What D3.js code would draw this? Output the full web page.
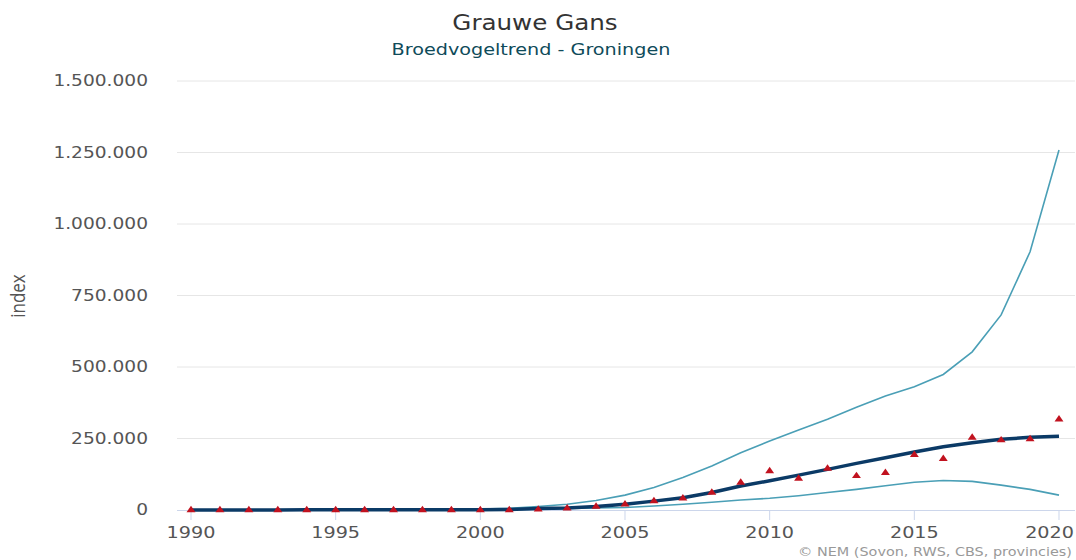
<!DOCTYPE html>
<html>
<head>
<meta charset="utf-8">
<script src="https://cdn.jsdelivr.net/npm/d3@7"></script>
<style>
  body { margin: 0; background: #fff; }
  text { font-family: "DejaVu Sans", Verdana, sans-serif; }
</style>
</head>
<body>
<div id="chart"></div>
<script>

// Chart data (index values per year)
const years = d3.range(1990, 2021);
const trend = [300, 300, 400, 400, 500, 500, 600, 700, 800, 900,
  1000, 2000, 5000, 7000, 12000, 20000, 31000, 43000, 61000, 84000,
  102000, 122000, 142000, 163000, 183000, 203000, 221000, 235000, 247000, 254000, 258000];
const upper = [600, 600, 700, 700, 800, 900, 1000, 1200, 1500, 2000,
  3000, 6000, 12000, 20000, 33000, 52000, 79000, 114000, 154000, 200000,
  241000, 280000, 317000, 359000, 399000, 431000, 474000, 553000, 682000, 903000, 1259000];
const lower = [100, 100, 150, 150, 200, 200, 250, 300, 350, 400,
  1000, 2000, 3000, 5000, 7000, 9000, 14000, 20000, 27000, 35000,
  41000, 50000, 61000, 72000, 85000, 97000, 103000, 100000, 87000, 72000, 52000];
const observed = [0, 0, 0, 0, 0, 0, 0, 0, 0, 0,
  0, 0, 2000, 6000, 12000, 20000, 31000, 41000, 61000, 96000,
  136000, 110000, 145000, 119000, 130000, 193000, 179000, 253000, 244000, 248000, 317000];
const yTicks = [0, 250000, 500000, 750000, 1000000, 1250000, 1500000];
const xTicks = [1990, 1995, 2000, 2005, 2010, 2015, 2020];

// The picture is stretched sideways, so draw in a narrower view box
const sx = 1.2;
const width = 1076;
const height = 560;
const W = width / sx;
const plot = {left: 177 / sx, right: 1075 / sx, top: 81, bottom: 510};

const svg = d3.select("#chart")
  .append("svg")
  .attr("width", width)
  .attr("height", height)
  .attr("viewBox", [0, 0, W, height])
  .attr("preserveAspectRatio", "none");

const nl = d3.formatLocale({decimal: ",", thousands: ".", grouping: [3], currency: ["€", ""]});
const fmt = nl.format(",");

let xScale = d3.scaleLinear()
  .domain([1990, 2020])
  .range([191 / sx, 1059 / sx]);

let yScale = d3.scaleLinear()
  .domain([0, 1500000])
  .range([plot.bottom, plot.top]);

// Gridlines
svg.append("g")
  .selectAll("line")
  .data(yTicks.slice(1))
  .enter()
  .append("line")
  .attr("x1", plot.left)
  .attr("x2", plot.right)
  .attr("y1", d => yScale(d))
  .attr("y2", d => yScale(d))
  .attr("stroke", "#e6e6e6")
  .attr("vector-effect", "non-scaling-stroke");

// Y labels
svg.append("g")
  .selectAll("text")
  .data(yTicks)
  .enter()
  .append("text")
  .attr("x", 148 / sx)
  .attr("y", d => yScale(d) + 5.5)
  .attr("text-anchor", "end")
  .attr("font-size", "15.5px")
  .attr("fill", "#555")
  .text(d => fmt(d));

// X axis line, ticks and labels
svg.append("line")
  .attr("x1", plot.left)
  .attr("x2", plot.right)
  .attr("y1", plot.bottom + 0.5)
  .attr("y2", plot.bottom + 0.5)
  .attr("stroke", "#ccd6eb")
  .attr("vector-effect", "non-scaling-stroke");

const xg = svg.append("g");
xg.selectAll("line")
  .data(xTicks)
  .enter()
  .append("line")
  .attr("x1", d => xScale(d))
  .attr("x2", d => xScale(d))
  .attr("y1", plot.bottom)
  .attr("y2", plot.bottom + 10)
  .attr("stroke", "#ccd6eb")
  .attr("vector-effect", "non-scaling-stroke");

// last label is kept inside the picture, like the reference
xg.selectAll("text")
  .data(xTicks)
  .enter()
  .append("text")
  .attr("x", (d, i) => i == xTicks.length - 1 ? 1074 / sx : xScale(d))
  .attr("y", 538)
  .attr("text-anchor", (d, i) => i == xTicks.length - 1 ? "end" : "middle")
  .attr("font-size", "16px")
  .attr("fill", "#555")
  .text(d => d);

// Lines
const line = arr => d3.line()
  .x((d, i) => xScale(years[i]))
  .y(d => yScale(d))(arr);

svg.append("path")
  .attr("d", line(upper))
  .attr("fill", "none")
  .attr("stroke", "#4a9fb6")
  .attr("stroke-width", 1.6)
  .attr("vector-effect", "non-scaling-stroke");

svg.append("path")
  .attr("d", line(lower))
  .attr("fill", "none")
  .attr("stroke", "#4a9fb6")
  .attr("stroke-width", 1.6)
  .attr("vector-effect", "non-scaling-stroke");

svg.append("path")
  .attr("d", line(trend))
  .attr("fill", "none")
  .attr("stroke", "#0b3a66")
  .attr("stroke-width", 3.5)
  .attr("stroke-linejoin", "round")
  .attr("vector-effect", "non-scaling-stroke");

// Observed index markers
svg.selectAll(".tri")
  .data(observed)
  .enter()
  .append("path")
  .attr("class", "tri")
  .attr("d", d3.symbol(d3.symbolTriangle, 24))
  .attr("transform", (d, i) => `translate(${xScale(years[i])},${yScale(d)})`)
  .attr("fill", "#c1121f");

// Titles
svg.append("text")
  .attr("x", 535 / sx)
  .attr("y", 30)
  .attr("text-anchor", "middle")
  .attr("font-size", "20.5px")
  .attr("fill", "#333")
  .text("Grauwe Gans");

svg.append("text")
  .attr("x", 531 / sx)
  .attr("y", 55)
  .attr("text-anchor", "middle")
  .attr("font-size", "16px")
  .attr("fill", "#0f4b5a")
  .text("Broedvogeltrend - Groningen");

svg.append("text")
  .attr("transform", `translate(${25 / sx},296) rotate(-90)`)
  .attr("text-anchor", "middle")
  .attr("font-size", "17px")
  .attr("fill", "#555")
  .style("font-family", "'Open Sans', sans-serif")
  .text("index");

svg.append("text")
  .attr("x", 1072 / sx)
  .attr("y", 556)
  .attr("text-anchor", "end")
  .attr("font-size", "12px")
  .attr("fill", "#999")
  .text("© NEM (Sovon, RWS, CBS, provincies)");

</script>
</body>
</html>
